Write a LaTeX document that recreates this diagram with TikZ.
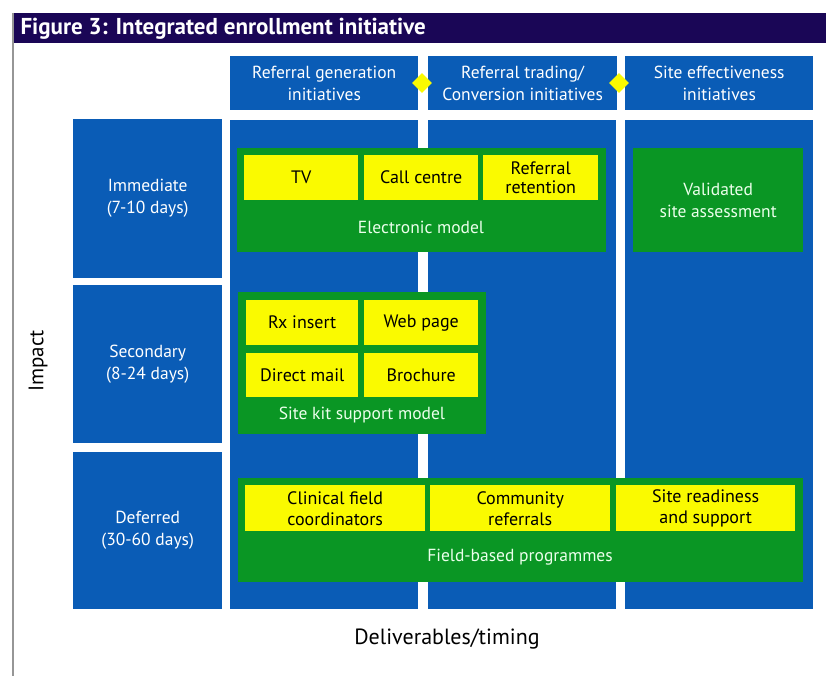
\documentclass[tikz,border=0pt]{standalone}
\usepackage{fontspec}
\setmainfont{PT Sans}
\usetikzlibrary{shapes.geometric}
\definecolor{navy}{RGB}{26,6,86}
\definecolor{boxblue}{RGB}{10,92,182}
\definecolor{boxgreen}{RGB}{10,150,36}
\definecolor{boxyellow}{RGB}{250,250,0}
\definecolor{edgegrey}{RGB}{150,150,150}
\begin{document}
\begin{tikzpicture}[x=1pt,y=-1pt,
  lbl/.style={font=\fontsize{17.5}{22}\selectfont, align=center},
  ylbl/.style={font=\fontsize{18}{19}\selectfont, align=center},
  bluebox/.style={fill=boxblue, draw=none, inner sep=0pt, anchor=north west},
  greenbox/.style={fill=boxgreen, draw=none, inner sep=0pt, anchor=north west},
  yellowbox/.style={fill=boxyellow, draw=none, inner sep=0pt, anchor=north west, ylbl, text=black},
  bluetext/.style={lbl, text=white},
  greentext/.style={lbl, text=white!92!green},
  joint/.style={diamond, fill=boxyellow, draw=none, inner sep=0pt, minimum width=20pt, minimum height=20pt}
]
\useasboundingbox (0,0) rectangle (826,676);
\fill[white] (0,0) rectangle (826,676);
% title bar
\node[fill=navy, inner sep=0pt, anchor=north west, minimum width=813pt, minimum height=30pt] (titlebar) at (13,13) {};
\node[anchor=west, text=white, font=\fontsize{23}{26}\selectfont\bfseries] (title) at (17,28.5) {Figure 3: Integrated enrollment initiative};
\draw[edgegrey, line width=1.5pt] (titlebar.north west) -- (13,676);
% headers
\node[bluebox, minimum width=188pt, minimum height=54pt] (h1) at (230,56) {};
\node[bluebox, minimum width=189pt, minimum height=54pt] (h2) at (428,56) {};
\node[bluebox, minimum width=188pt, minimum height=54pt] (h3) at (625,56) {};
\node[bluetext] (h1t) at (h1.center) {Referral generation\\initiatives};
\node[bluetext] (h2t) at (h2.center) {Referral trading/\\Conversion initiatives};
\node[bluetext] (h3t) at (h3.center) {Site effectiveness\\initiatives};
\node[joint] (j1) at (422,83) {};
\node[joint] (j2) at (619,83) {};
% columns
\node[bluebox, minimum width=188pt, minimum height=489pt] (c1) at (230,120) {};
\node[bluebox, minimum width=188pt, minimum height=489pt] (c2) at (428,120) {};
\node[bluebox, minimum width=188pt, minimum height=489pt] (c3) at (625,120) {};
% rows
\node[bluebox, minimum width=149pt, minimum height=159pt] (r1) at (73,119) {};
\node[bluebox, minimum width=149pt, minimum height=158pt] (r2) at (73,285) {};
\node[bluebox, minimum width=149pt, minimum height=157pt] (r3) at (73,452) {};
\node[bluetext] (r1t) at (r1.center) {Immediate\\(7-10 days)};
\node[bluetext] (r2t) at (r2.center) {Secondary\\(8-24 days)};
\node[bluetext] (r3t) at (r3.center) {Deferred\\(30-60 days)};
% electronic model
\node[greenbox, minimum width=369pt, minimum height=104pt] (em) at (237,148) {};
\node[yellowbox, minimum width=114pt, minimum height=45pt] (tv) at (244,155) {TV};
\node[yellowbox, minimum width=114pt, minimum height=45pt] (cc) at (364,155) {Call centre};
\node[yellowbox, minimum width=115pt, minimum height=45pt] (rr) at (483,155) {Referral\\retention};
\node[greentext] (emt) at (421,227) {Electronic model};
% validated
\node[greenbox, minimum width=170pt, minimum height=104pt] (vs) at (633,148) {};
\node[greentext] (vst) at (vs.center) {Validated\\site assessment};
% site kit
\node[greenbox, minimum width=248pt, minimum height=142pt] (sk) at (238,292) {};
\node[yellowbox, minimum width=112pt, minimum height=45pt] (rx) at (246,300) {Rx insert};
\node[yellowbox, minimum width=114pt, minimum height=45pt] (wp) at (364,300) {Web page};
\node[yellowbox, minimum width=112pt, minimum height=44pt] (dm) at (246,353) {Direct mail};
\node[yellowbox, minimum width=114pt, minimum height=44pt] (br) at (364,353) {Brochure};
\node[greentext] (skt) at (362,415) {Site kit support model};
% field based
\node[greenbox, minimum width=565pt, minimum height=104pt] (fb) at (238,478) {};
\node[yellowbox, minimum width=180pt, minimum height=46pt] (cf) at (245,485) {Clinical field\\[2pt]coordinators};
\node[yellowbox, minimum width=180pt, minimum height=46pt] (cr) at (430,485) {Community\\[2pt]referrals};
\node[yellowbox, minimum width=179pt, minimum height=46pt] (sr) at (616,485) {Site readiness\\[2pt]and support};
\node[greentext] (fbt) at (520,557) {Field-based programmes};
% axis labels
\node[font=\fontsize{21}{24}\selectfont, rotate=90] (impact) at (38,361) {Impact};
\node[font=\fontsize{22}{25}\selectfont] (deliv) at (447,639) {Deliverables/timing};
\end{tikzpicture}
\end{document}
